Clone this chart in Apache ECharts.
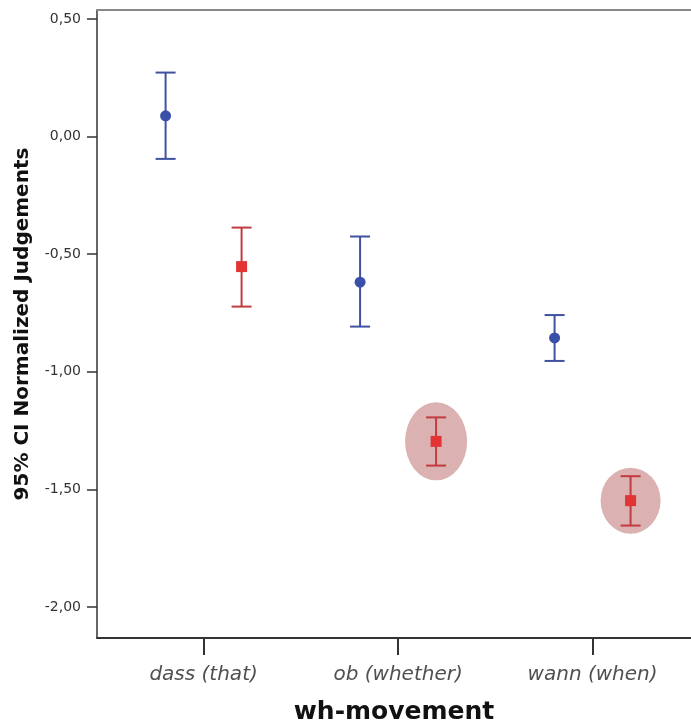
<!DOCTYPE html>
<html>
<head>
<meta charset="utf-8">
<script src="https://cdn.jsdelivr.net/npm/echarts@6/dist/echarts.min.js"></script>
<style>html,body{margin:0;padding:0;background:#fff;}#c{width:691px;height:726px;}</style>
</head>
<body>
<div id="c"></div>
<script>
// ---- data ----
const categories = ['dass (that)', 'ob (whether)', 'wann (when)'];
const blueMean = [0.088, -0.619, -0.856];
const blueLow  = [-0.095, -0.808, -0.954];
const blueHigh = [0.272, -0.425, -0.759];
const redMean  = [-0.553, -1.296, -1.548];
const redLow   = [-0.723, -1.399, -1.654];
const redHigh  = [-0.387, -1.194, -1.444];
const highlighted = [false, true, true];
const yTicks = [0.5, 0, -0.5, -1, -1.5, -2];
const xTicks = [0, 1, 2];

// ---- styles ----
const OFFSET = 38;
const HALO = {1: {rx: 31, ry: 39}, 2: {rx: 30, ry: 33}};
const BLUE_LINE = '#3f51a0', BLUE_MARK = '#3a4fa8';
const RED_LINE = '#c23b3e', RED_MARK = '#e23434';

function build(mean, low, high) {
  return categories.map((c, i) => [i, mean[i], low[i], high[i]]);
}

function errRender(dx, lineColor, markColor, shape) {
  return function (params, api) {
    const x = api.value(0);
    const m = api.coord([x, api.value(1)]);
    const lo = api.coord([x, api.value(2)]);
    const hi = api.coord([x, api.value(3)]);
    const cx = m[0] + dx;
    const st = {stroke: lineColor, lineWidth: 2};
    const cw = 10;
    const children = [
      {type: 'line', shape: {x1: cx, y1: hi[1], x2: cx, y2: lo[1]}, style: st},
      {type: 'line', shape: {x1: cx - cw, y1: hi[1], x2: cx + cw, y2: hi[1]}, style: st},
      {type: 'line', shape: {x1: cx - cw, y1: lo[1], x2: cx + cw, y2: lo[1]}, style: st}
    ];
    if (shape === 'circle') {
      children.push({type: 'circle', shape: {cx: cx, cy: m[1], r: 5.5}, style: {fill: markColor}});
    } else {
      children.push({type: 'rect', shape: {x: cx - 5.5, y: m[1] - 5.5, width: 11, height: 11}, style: {fill: markColor}});
    }
    return {type: 'group', children: children};
  };
}

const haloData = categories.map((c, i) => [i, redMean[i]]).filter((d, i) => highlighted[i]);

const chart = echarts.init(document.getElementById('c'), null, {renderer: 'canvas'});
chart.setOption({
  animation: false,
  backgroundColor: '#ffffff',
  grid: {left: 97, right: 0, top: 10, bottom: 88, containLabel: false, outerBoundsMode: 'none'},
  xAxis: [{
    type: 'value', min: -0.548, max: 2.506,
    name: 'wh-movement', nameLocation: 'middle', nameGap: 62,
    nameTextStyle: {fontFamily: 'DejaVu Sans', fontWeight: 'bold', fontSize: 25, color: '#111'},
    axisLine: {show: true, onZero: false, lineStyle: {color: '#333', width: 2}},
    axisTick: {show: true, customValues: xTicks, length: 17, lineStyle: {color: '#333', width: 2}},
    axisLabel: {customValues: xTicks, margin: 27, fontFamily: 'DejaVu Sans', fontStyle: 'italic', fontSize: 20, color: '#505050',
      formatter: v => categories[Math.round(v)]},
    splitLine: {show: false}
  }, {
    type: 'value', position: 'top', min: -0.548, max: 2.506,
    axisLine: {show: true, onZero: false, lineStyle: {color: '#888', width: 2}},
    axisTick: {show: false}, axisLabel: {show: false}, splitLine: {show: false}
  }],
  yAxis: {
    type: 'value', min: -2.132, max: 0.538,
    name: '95% CI Normalized Judgements', nameLocation: 'middle', nameGap: 64,
    nameTextStyle: {fontFamily: 'DejaVu Sans', fontWeight: 'bold', fontSize: 20, color: '#111'},
    axisLine: {show: true, onZero: false, lineStyle: {color: '#333', width: 1.5}},
    axisTick: {show: true, customValues: yTicks, length: 10, lineStyle: {color: '#333', width: 1.5}},
    axisLabel: {customValues: yTicks, margin: 16, fontFamily: 'DejaVu Sans', fontSize: 14, color: '#333',
      formatter: v => v.toFixed(2).replace('.', ',')},
    splitLine: {show: false}
  },
  series: [
    {
      type: 'custom', z: 1, data: haloData,
      renderItem: function (params, api) {
        const idx = api.value(0);
        const p = api.coord([idx, api.value(1)]);
        const h = HALO[idx] || {rx: 30, ry: 34};
        return {type: 'circle', x: p[0] + OFFSET, y: p[1], scaleX: 1, scaleY: h.ry / h.rx,
          shape: {cx: 0, cy: 0, r: h.rx}, style: {fill: '#dbb1b1'}};
      }
    },
    {type: 'custom', z: 2, data: build(blueMean, blueLow, blueHigh), renderItem: errRender(-OFFSET, BLUE_LINE, BLUE_MARK, 'circle')},
    {type: 'custom', z: 2, data: build(redMean, redLow, redHigh), renderItem: errRender(OFFSET, RED_LINE, RED_MARK, 'rect')}
  ]
});
</script>
</body>
</html>
